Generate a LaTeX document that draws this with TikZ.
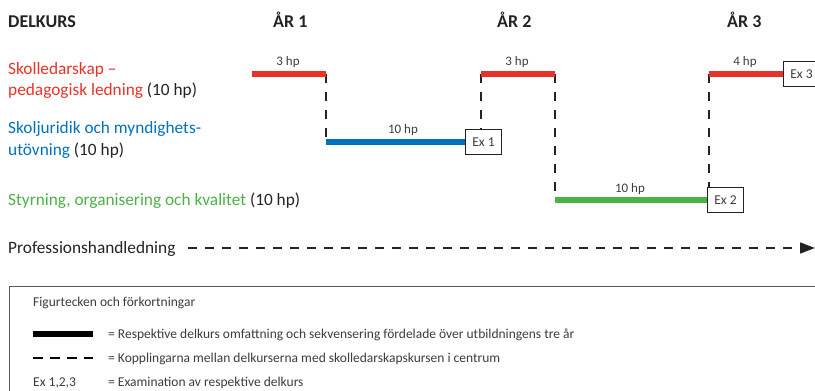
\documentclass[tikz,border=0pt]{standalone}
\usepackage{fontspec}
\setmainfont{Carlito}
\usetikzlibrary{arrows.meta}
\definecolor{cred}{RGB}{232,50,40}
\definecolor{cblue}{RGB}{0,114,188}
\definecolor{cgreen}{RGB}{76,178,72}
\definecolor{ctext}{RGB}{35,35,35}
\definecolor{cgray}{RGB}{60,60,60}
\definecolor{cframe}{RGB}{90,90,90}
\begin{document}
\begin{tikzpicture}[x=1pt,y=-1pt,
  head/.style={font=\bfseries\fontsize{18}{20}\selectfont, text=ctext, anchor=base west, inner sep=0},
  lab/.style={font=\fontsize{17.3}{20}\selectfont, text=ctext, anchor=base west, inner sep=0},
  hplab/.style={font=\fontsize{13}{15}\selectfont, text=cgray, anchor=base, inner sep=0},
  bar/.style={line width=6pt},
  conn/.style={draw=ctext, line width=1.8pt, dash pattern=on 9pt off 9pt},
  exbox/.style={draw=ctext, line width=0.9pt, minimum width=36pt, minimum height=25pt, inner sep=0, font=\fontsize{13.5}{15}\selectfont, text=cgray, anchor=west, fill=white},
  leg/.style={font=\fontsize{13.5}{15}\selectfont, text=cgray, anchor=base west, inner sep=0}
]
\useasboundingbox (0,0) rectangle (815,391);

% headers
\node[head] (hdel) at (8,27) {DELKURS};
\node[head] (hy1) at (273,27) {ÅR 1};
\node[head] (hy2) at (497,27) {ÅR 2};
\node[head] (hy3) at (727,27) {ÅR 3};

% left labels
\node[lab] (l1a) at (8,74) {\textcolor{cred}{Skolledarskap –}};
\node[lab] (l1b) at (8,95) {\textcolor{cred}{pedagogisk ledning} (10 hp)};
\node[lab] (l2a) at (8,133) {\textcolor{cblue}{Skoljuridik och myndighets-}};
\node[lab] (l2b) at (8,155) {\textcolor{cblue}{utövning} (10 hp)};
\node[lab] (l3) at (8,205) {\textcolor{cgreen}{Styrning, organisering och kvalitet} (10 hp)};

% coordinates of bars
\coordinate (r1a) at (252,74);
\coordinate (r1b) at (326,74);
\coordinate (r2a) at (481,74);
\coordinate (r2b) at (555,74);
\coordinate (r3a) at (709,74);
\coordinate (b1a) at (326,142);
\coordinate (g1a) at (555,200);

% exam boxes
\node[exbox] (ex1) at (465,142) {Ex 1};
\node[exbox] (ex2) at (707,200) {Ex 2};
\node[exbox] (ex3) at (783,74) {Ex 3};

% dashed connectors
\draw[conn] (r1b) -- (b1a);
\draw[conn] (r2a) -- (r2a |- ex1.north);
\draw[conn] (r2b) -- (g1a);
\draw[conn] (r3a) -- (r3a |- ex2.north);

% bars
\draw[bar, cred] (r1a) -- (r1b);
\draw[bar, cred] (r2a) -- (r2b);
\draw[bar, cred] (r3a) -- (ex3.west);
\draw[bar, cblue] (b1a) -- (ex1.west);
\draw[bar, cgreen] (g1a) -- (ex2.west);

% hp labels
\node[hplab] (hp1) at (288,65) {3 hp};
\node[hplab] (hp2) at (517,65) {3 hp};
\node[hplab] (hp3) at (745,65) {4 hp};
\node[hplab] (hp4) at (403,133) {10 hp};
\node[hplab] (hp5) at (630,192) {10 hp};

% Professionshandledning
\node[lab] (ph) at (8,253) {Professionshandledning};
\coordinate (phend) at (815,248);
\draw[ctext, line width=1.5pt, dash pattern=on 9pt off 8pt, -{Triangle[length=15pt,width=11pt]}]
  (188,248) -- (phend);

% legend
\draw[cframe, line width=1pt] (9,400) -- (9,286) -- (830,286);
\node[leg] (lt) at (33,306) {Figurtecken och förkortningar};
\coordinate (lb1) at (33,334);
\coordinate (lb2) at (93,334);
\draw[bar, black, line width=6pt] (lb1) -- (lb2);
\node[leg] (lt1) at (108,338.5) {= Respektive delkurs omfattning och sekvensering fördelade över utbildningens tre år};
\coordinate (ld1) at (33,358);
\coordinate (ld2) at (93,358);
\draw[black, line width=1.8pt, dash pattern=on 10pt off 7pt] (ld1) -- (ld2);
\node[leg] (lt2) at (108,362) {= Kopplingarna mellan delkurserna med skolledarskapskursen i centrum};
\node[leg] (lt3) at (33,386) {Ex 1,2,3};
\node[leg] (lt4) at (108,386) {= Examination av respektive delkurs};
\end{tikzpicture}
\end{document}
